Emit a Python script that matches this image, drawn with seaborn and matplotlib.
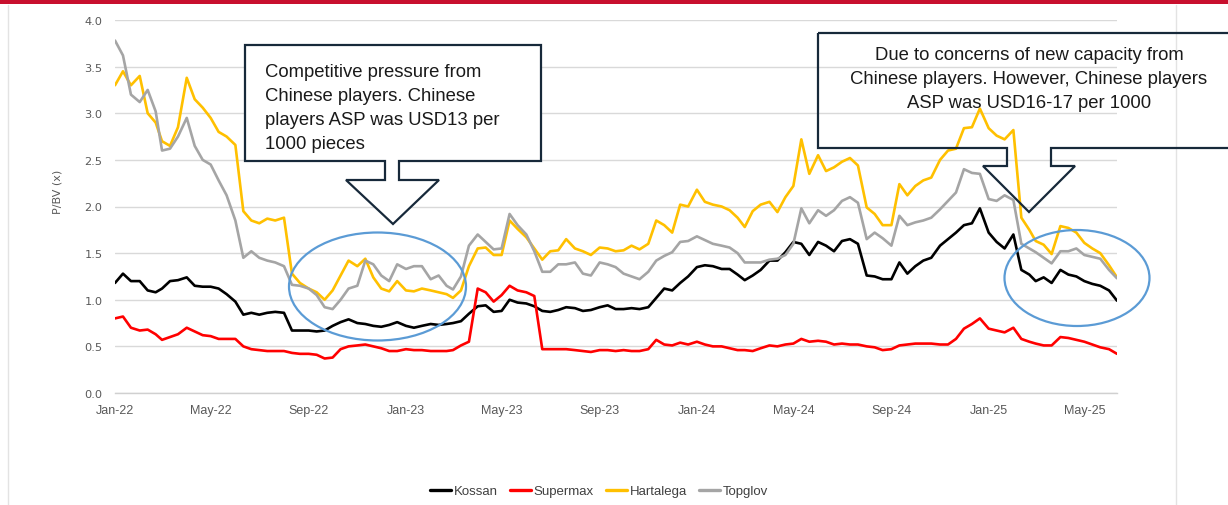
import pandas as pd
import matplotlib
matplotlib.use("Agg")
import matplotlib.pyplot as plt
import matplotlib.dates as mdates
from matplotlib.patches import Polygon, Ellipse, Rectangle
from matplotlib.lines import Line2D
import seaborn as sns

# P/BV readings on the 1st, 11th and 21st of each month, Jan-22 to Jun-25
dates = pd.to_datetime([f"{y}-{m:02d}-{d:02d}"
                        for y in range(2022, 2026)
                        for m in range(1, 13)
                        for d in (1, 11, 21)])
dates = dates[dates <= "2025-06-11"]

stocks = ["Kossan", "Supermax", "Hartalega", "Topglov"]
colors = ["#000000", "#FF0000", "#FFC000", "#A5A5A5"]

kossan = [
    # 2022
    1.18, 1.28, 1.20, 1.20, 1.10, 1.08, 1.12, 1.20, 1.21, 1.24, 1.15, 1.14,
    1.14, 1.12, 1.06, 0.98, 0.84, 0.86, 0.84, 0.86, 0.87, 0.86, 0.67, 0.67,
    0.67, 0.66, 0.67, 0.72, 0.76, 0.79, 0.75, 0.74, 0.72, 0.71, 0.73, 0.76,
    # 2023
    0.72, 0.70, 0.72, 0.74, 0.73, 0.74, 0.75, 0.77, 0.85, 0.93, 0.94, 0.87,
    0.88, 1.00, 0.97, 0.96, 0.93, 0.88, 0.87, 0.89, 0.92, 0.91, 0.88, 0.89,
    0.92, 0.94, 0.90, 0.90, 0.91, 0.90, 0.92, 1.02, 1.12, 1.10, 1.18, 1.25,
    # 2024
    1.35, 1.37, 1.36, 1.33, 1.33, 1.27, 1.21, 1.26, 1.32, 1.42, 1.42, 1.51,
    1.62, 1.60, 1.48, 1.62, 1.58, 1.52, 1.63, 1.65, 1.60, 1.26, 1.25, 1.22,
    1.22, 1.40, 1.28, 1.36, 1.42, 1.45, 1.58, 1.65, 1.72, 1.80, 1.82, 1.98,
    # 2025
    1.72, 1.62, 1.55, 1.70, 1.32, 1.27, 1.20, 1.24, 1.18, 1.32, 1.27, 1.25,
    1.20, 1.17, 1.15, 1.10, 0.99,
]

supermax = [
    # 2022
    0.80, 0.82, 0.70, 0.67, 0.68, 0.63, 0.57, 0.60, 0.63, 0.70, 0.66, 0.62,
    0.61, 0.58, 0.58, 0.58, 0.50, 0.47, 0.46, 0.45, 0.45, 0.45, 0.43, 0.42,
    0.42, 0.41, 0.37, 0.38, 0.47, 0.50, 0.51, 0.52, 0.50, 0.48, 0.45, 0.45,
    # 2023
    0.47, 0.46, 0.46, 0.45, 0.45, 0.45, 0.46, 0.51, 0.55, 1.12, 1.08, 0.98,
    1.05, 1.15, 1.10, 1.08, 1.04, 0.47, 0.47, 0.47, 0.47, 0.46, 0.45, 0.44,
    0.46, 0.46, 0.45, 0.46, 0.45, 0.45, 0.47, 0.57, 0.52, 0.51, 0.54, 0.52,
    # 2024
    0.55, 0.52, 0.50, 0.50, 0.48, 0.46, 0.46, 0.45, 0.48, 0.51, 0.50, 0.52,
    0.53, 0.58, 0.55, 0.56, 0.55, 0.52, 0.53, 0.52, 0.52, 0.50, 0.49, 0.46,
    0.47, 0.51, 0.52, 0.53, 0.53, 0.53, 0.52, 0.52, 0.58, 0.69, 0.74, 0.80,
    # 2025
    0.69, 0.67, 0.65, 0.70, 0.58, 0.55, 0.53, 0.51, 0.51, 0.60, 0.59, 0.57,
    0.55, 0.52, 0.49, 0.47, 0.42,
]

hartalega = [
    # 2022
    3.30, 3.45, 3.30, 3.40, 3.00, 2.90, 2.70, 2.65, 2.85, 3.38, 3.15, 3.06,
    2.95, 2.80, 2.75, 2.66, 1.95, 1.85, 1.82, 1.87, 1.85, 1.88, 1.28, 1.18,
    1.12, 1.08, 1.00, 1.10, 1.26, 1.42, 1.36, 1.44, 1.24, 1.12, 1.09, 1.20,
    # 2023
    1.10, 1.09, 1.12, 1.10, 1.08, 1.06, 1.02, 1.10, 1.36, 1.55, 1.56, 1.48,
    1.48, 1.85, 1.76, 1.67, 1.55, 1.43, 1.52, 1.53, 1.65, 1.55, 1.52, 1.48,
    1.56, 1.55, 1.52, 1.53, 1.58, 1.54, 1.60, 1.85, 1.80, 1.72, 2.02, 2.00,
    # 2024
    2.18, 2.05, 2.02, 2.00, 1.96, 1.88, 1.78, 1.95, 2.02, 2.05, 1.94, 2.10,
    2.22, 2.72, 2.35, 2.55, 2.38, 2.42, 2.48, 2.52, 2.44, 1.99, 1.92, 1.80,
    1.80, 2.24, 2.12, 2.22, 2.28, 2.31, 2.50, 2.60, 2.62, 2.84, 2.85, 3.05,
    # 2025
    2.84, 2.76, 2.72, 2.82, 1.88, 1.75, 1.63, 1.59, 1.49, 1.79, 1.77, 1.72,
    1.61, 1.55, 1.50, 1.37, 1.24,
]

topglov = [
    # 2022
    3.78, 3.62, 3.20, 3.12, 3.25, 3.02, 2.60, 2.62, 2.75, 2.95, 2.65, 2.50,
    2.45, 2.28, 2.12, 1.85, 1.45, 1.52, 1.45, 1.42, 1.40, 1.36, 1.16, 1.15,
    1.12, 1.05, 0.92, 0.90, 1.00, 1.12, 1.15, 1.42, 1.38, 1.26, 1.20, 1.38,
    # 2023
    1.33, 1.36, 1.36, 1.22, 1.26, 1.15, 1.11, 1.25, 1.58, 1.70, 1.62, 1.54,
    1.55, 1.92, 1.80, 1.70, 1.52, 1.30, 1.30, 1.38, 1.38, 1.40, 1.28, 1.26,
    1.40, 1.38, 1.35, 1.28, 1.25, 1.22, 1.30, 1.42, 1.47, 1.51, 1.62, 1.63,
    # 2024
    1.68, 1.64, 1.60, 1.58, 1.56, 1.50, 1.40, 1.40, 1.40, 1.43, 1.44, 1.48,
    1.60, 1.98, 1.82, 1.96, 1.90, 1.96, 2.06, 2.10, 2.04, 1.65, 1.72, 1.66,
    1.58, 1.90, 1.80, 1.83, 1.85, 1.88, 1.97, 2.06, 2.15, 2.40, 2.36, 2.35,
    # 2025
    2.08, 2.06, 2.12, 2.07, 1.60, 1.55, 1.51, 1.45, 1.39, 1.52, 1.52, 1.55,
    1.48, 1.46, 1.44, 1.32, 1.23,
]

note_left = ("Competitive pressure from\nChinese players. Chinese\n"
             "players ASP was USD13 per\n1000 pieces")
note_right = ("Due to concerns of new capacity from\n"
              "Chinese players. However, Chinese players\n"
              "ASP was USD16-17 per 1000")

# long-form frame for seaborn
df = pd.concat([
    pd.DataFrame({"date": dates, "value": vals, "stock": name})
    for name, vals in zip(stocks, [kossan, supermax, hartalega, topglov])
], ignore_index=True)

sns.set_style("white")
plt.rcParams["font.family"] = ["Liberation Sans", "DejaVu Sans"]

W, H = 1228, 506
fig = plt.figure(figsize=(W / 100, H / 100), dpi=100)


def fx(x):
    return x / W


def fy(y):
    return 1 - y / H


ax = fig.add_axes([fx(115), fy(394), (1117 - 115) / W, (394 - 21) / H])

sns.lineplot(data=df, x="date", y="value", hue="stock", hue_order=stocks,
             palette=dict(zip(stocks, colors)), linewidth=1.9, ax=ax)

ax.set_xlim(pd.Timestamp("2022-01-01"), pd.Timestamp("2025-06-11"))
ax.set_ylim(0, 4)
ax.set_yticks([i * 0.5 for i in range(9)])
ax.yaxis.set_major_formatter(plt.FormatStrFormatter("%.1f"))
ax.xaxis.set_major_locator(mdates.MonthLocator(bymonth=[1, 5, 9]))
ax.xaxis.set_major_formatter(mdates.DateFormatter("%b-%y"))

ax.yaxis.grid(True, color="#D9D9D9", linewidth=1)
ax.set_axisbelow(True)
for side in ["top", "right", "left"]:
    ax.spines[side].set_visible(False)
ax.spines["bottom"].set_color("#D0D0D0")
ax.spines["bottom"].set_linewidth(1)

ax.tick_params(axis="y", length=0, pad=9, labelsize=8.2, labelcolor="#595959")
for lab in ax.get_yticklabels():
    lab.set_family("DejaVu Sans")
ax.tick_params(axis="x", length=3, color="#D0D0D0", pad=5,
               labelsize=9, labelcolor="#595959")

ax.set_xlabel("")
ax.set_ylabel("P/BV (x)", fontsize=8, color="#595959", family="DejaVu Sans")
ax.yaxis.set_label_coords((62 - 115) / 1002, (394 - 192) / 373)

# legend at the bottom
handles, labels = ax.get_legend_handles_labels()
for h in handles:
    h.set_linewidth(2.4)
ax.legend(handles, labels, loc="center", ncol=4, frameon=False,
          bbox_to_anchor=(fx(599), fy(492)), bbox_transform=fig.transFigure,
          fontsize=9.5, handlelength=1.6, handletextpad=0.2,
          columnspacing=0.9, labelcolor="#404040")

# red bar and faint frame
fig.add_artist(Rectangle((0, fy(5)), 1, 5 / H, transform=fig.transFigure,
                         color="#C8102E", lw=0))
for xv in (8, 1176):
    fig.add_artist(Line2D([fx(xv), fx(xv)], [fy(6), 0],
                          transform=fig.transFigure, color="#E3E3E3", lw=1))


def callout(box, stem, head, tip):
    l, t, r, b = box
    sl, sr, sb = stem
    hl, hr = head
    pts = [(l, t), (r, t), (r, b), (sr, b), (sr, sb), (hr, sb), tip,
           (hl, sb), (sl, sb), (sl, b), (l, b)]
    return [(fx(x), fy(y)) for x, y in pts]


fig.add_artist(Polygon(callout((245, 46, 541, 162), (385, 399, 181),
                               (346, 439), (393, 225)),
                       closed=True, transform=fig.transFigure,
                       facecolor="white", edgecolor="#17293A", lw=1.6,
                       zorder=5))
fig.add_artist(Polygon(callout((818, 34, 1260, 149), (1007, 1051, 167),
                               (983, 1075), (1029, 213)),
                       closed=True, transform=fig.transFigure,
                       facecolor="none", edgecolor="#17293A", lw=1.6,
                       zorder=5))

fig.text(fx(265), fy(64), note_left, ha="left", va="top", fontsize=13.3,
         color="#1A1A1A", linespacing=1.55, zorder=6)
fig.text(fx(1029), fy(47), note_right, ha="center", va="top", fontsize=13.3,
         color="#1A1A1A", linespacing=1.55, multialignment="center", zorder=6)

for cx, cy, w, h in [(377.5, 287.5, 177, 108), (1077, 279, 145, 96)]:
    fig.add_artist(Ellipse((fx(cx), fy(cy)), w / W, h / H,
                           transform=fig.transFigure, facecolor="none",
                           edgecolor="#5B9BD5", lw=1.6, zorder=6))

fig.savefig("out.png", dpi=100)
plt.close(fig)
